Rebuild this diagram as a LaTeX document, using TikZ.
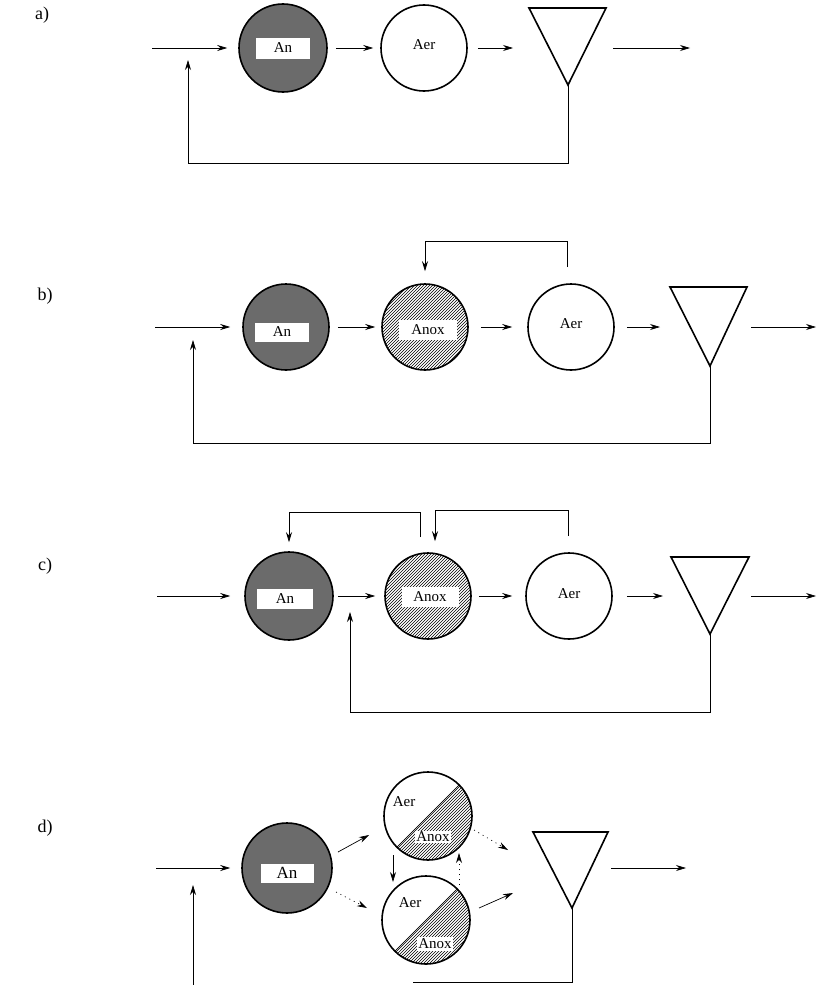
\documentclass[tikz,border=0pt]{standalone}
\usepackage{fontspec}
\setmainfont{Liberation Serif}
\usetikzlibrary{arrows.meta,patterns,calc}
\begin{document}
\begin{tikzpicture}[x=1pt,y=-1pt,
 tank/.style={circle,draw,line width=1.6pt,inner sep=0pt,minimum size=#1},
 tank/.default=86pt,
 anfill/.style={fill=black!58},
 anoxfill/.style={pattern=north east lines},
 halftank/.style={tank=#1,path picture={
   \fill[pattern=north east lines] (path picture bounding box.north east) -- (path picture bounding box.south east) -- (path picture bounding box.south west) -- cycle;
   \draw[line width=0.7pt] (path picture bounding box.north east) -- (path picture bounding box.south west);}},
 lbl/.style={fill=white,inner sep=0pt,font=\fontsize{15}{15}\selectfont},
 txt/.style={inner sep=0pt,font=\fontsize{15}{15}\selectfont},
 flow/.style={line width=0.7pt,-{Stealth[length=10pt,width=6pt]}},
 dotflow/.style={flow,dash pattern=on 1pt off 4pt},
 conn/.style={line width=0.7pt},
 settler/.style={line width=1.6pt,line join=miter},
 panel/.style={font=\fontsize{18}{18}\selectfont}
]
\path[use as bounding box] (0,0) rectangle (817,985);

% ---------- a ----------
\node[panel] (la) at (42,15) {a)};
\node[tank=88pt,anfill] (anA) at (283,48) {};
\node[lbl,minimum width=54pt,minimum height=21pt] (anAl) at (anA) {An};
\node[tank] (aerA) at (424,48) {};
\node[txt] (aerAl) at (424,45) {Aer};
\coordinate (tAl) at (529,8); \coordinate (tAr) at (606,8); \coordinate (tAb) at (568,85);
\draw[settler] (tAl) -- (tAr) -- (tAb) -- cycle;
\coordinate (inA) at (152,48);
\draw[flow,shorten >=11pt] (inA) -- (anA);
\draw[flow,shorten <=8pt,shorten >=7pt] (anA) -- (aerA);
\coordinate (tAin) at (513,48);
\draw[flow,shorten <=10pt] (aerA) -- (tAin);
\coordinate (oA0) at (613,48); \coordinate (oA1) at (690,48);
\draw[flow] (oA0) -- (oA1);
\coordinate (rA) at (188,60);
\draw[flow] (tAb) -- ++(0,78) -| (rA);

% ---------- b ----------
\node[panel] (lb) at (45,296) {b)};
\node[tank,anfill] (anB) at (286,327) {};
\node[lbl,minimum width=54pt,minimum height=19pt] (anBl) at (282,332) {An};
\node[tank,anoxfill] (anoxB) at (425,327) {};
\node[lbl,minimum width=58pt,minimum height=20pt] (anoxBl) at (428,330) {Anox};
\node[tank] (aerB) at (571,327) {};
\node[txt] (aerBl) at (571,324) {Aer};
\coordinate (tBl) at (670,287); \coordinate (tBr) at (747,287); \coordinate (tBb) at (710,366);
\draw[settler] (tBl) -- (tBr) -- (tBb) -- cycle;
\coordinate (inB) at (155,327);
\draw[flow,shorten >=12pt] (inB) -- (anB);
\draw[flow,shorten <=8pt,shorten >=6pt] (anB) -- (anoxB);
\draw[flow,shorten <=12pt,shorten >=15pt] (anoxB) -- (aerB);
\coordinate (tBin) at (660,327);
\draw[flow,shorten <=12pt] (aerB) -- (tBin);
\coordinate (oB0) at (751,327); \coordinate (oB1) at (816,327);
\draw[flow] (oB0) -- (oB1);
\coordinate (rB) at (193,340);
\draw[flow] (tBb) -- ++(0,77) -| (rB);
\draw[flow] ([xshift=-4pt,yshift=16pt]aerB.north) -- ++(0,-26) -| ([yshift=12pt]anoxB.north);

% ---------- c ----------
\node[panel] (lc) at (45,566) {c)};
\node[tank=88pt,anfill] (anC) at (289,596) {};
\node[lbl,minimum width=56pt,minimum height=20pt] (anCl) at (285,599) {An};
\node[tank,anoxfill] (anoxC) at (428,596) {};
\node[lbl,minimum width=57pt,minimum height=20pt] (anoxCl) at (430,597) {Anox};
\node[tank] (aerC) at (569,596) {};
\node[txt] (aerCl) at (569,594) {Aer};
\coordinate (tCl) at (671,557); \coordinate (tCr) at (749,557); \coordinate (tCb) at (710,634);
\draw[settler] (tCl) -- (tCr) -- (tCb) -- cycle;
\coordinate (inC) at (157,596);
\draw[flow,shorten >=14pt] (inC) -- (anC);
\draw[flow,shorten <=4pt,shorten >=9pt] (anC) -- (anoxC);
\draw[flow,shorten <=7pt,shorten >=13pt] (anoxC) -- (aerC);
\coordinate (tCin) at (663,596);
\draw[flow,shorten <=14pt] (aerC) -- (tCin);
\coordinate (oC0) at (751,596); \coordinate (oC1) at (816,596);
\draw[flow] (oC0) -- (oC1);
\coordinate (rC) at (350,612);
\draw[flow] (tCb) -- ++(0,78) -| (rC);
\draw[flow] ([xshift=-8pt,yshift=15pt]anoxC.north) -- ++(0,-25) -| ([yshift=9pt]anC.north);
\draw[flow] ([xshift=-1pt,yshift=16pt]aerC.north) -- ++(0,-26) -| ([xshift=7pt,yshift=11pt]anoxC.north);

% ---------- d ----------
\node[panel] (ld) at (45,828) {d)};
\node[tank=90pt,anfill] (anD) at (287,868) {};
\node[lbl,minimum width=53pt,minimum height=19pt,font=\fontsize{17}{17}\selectfont] (anDl) at (287,873) {An};
\node[halftank=88pt] (dU) at (428,816) {};
\node[halftank=88pt] (dL) at (426,920) {};
\node[txt] (dUa) at (404,802) {Aer};
\node[lbl,inner sep=1pt] (dUx) at (433,837) {Anox};
\node[txt] (dLa) at (410,903) {Aer};
\node[lbl,inner sep=1.5pt] (dLx) at (435,944) {Anox};
\coordinate (tDl) at (533,832); \coordinate (tDr) at (608,832); \coordinate (tDb) at (572,908);
\draw[settler] (tDl) -- (tDr) -- (tDb) -- cycle;
\coordinate (inD) at (156,868);
\draw[flow,shorten >=11pt] (inD) -- (anD);
\coordinate (oD0) at (611,868); \coordinate (oD1) at (686,868);
\draw[flow] (oD0) -- (oD1);
\coordinate (rD0) at (193,985); \coordinate (rD1) at (193,885);
\draw[flow] (rD0) -- (rD1);
\coordinate (rDe) at (413,982);
\draw[conn] (rDe) -| (tDb);
\draw[flow] ($(anD)+(51,-16)$) -- ($(dU)+(-59,19)$);
\draw[dotflow] ($(anD)+(49,24)$) -- ($(dL)+(-59,-12)$);
\draw[flow] ($(dU)+(-35,39)$) -- ($(dL)+(-33,-38)$);
\draw[dotflow] ($(dL)+(33,-35)$) -- ($(dU)+(31,37)$);
\coordinate (tDi1) at (508,850);
\draw[dotflow] ($(dU)+(46,14)$) -- (tDi1);
\coordinate (tDi2) at (513,893);
\draw[flow] ($(dL)+(53,-12)$) -- (tDi2);
\end{tikzpicture}
\end{document}
